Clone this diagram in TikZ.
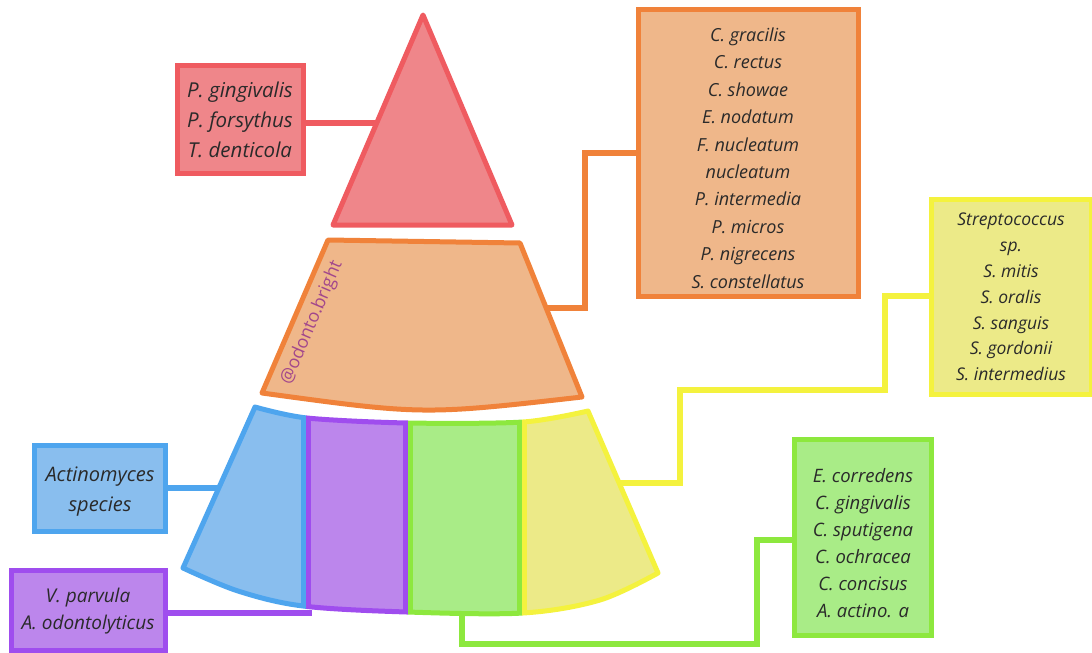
\documentclass[tikz,border=0pt]{standalone}
\usepackage{fontspec}
\setmainfont{Open Sans}
\definecolor{redF}{HTML}{EF868A}\definecolor{redD}{HTML}{EF5B60}
\definecolor{oraF}{HTML}{EFB78A}\definecolor{oraD}{HTML}{F0823A}
\definecolor{bluF}{HTML}{89BEEE}\definecolor{bluD}{HTML}{4EA5EE}
\definecolor{purF}{HTML}{BC86EC}\definecolor{purD}{HTML}{9F4DEE}
\definecolor{greF}{HTML}{A9EC87}\definecolor{greD}{HTML}{8DE83E}
\definecolor{yelF}{HTML}{ECEA88}\definecolor{yelD}{HTML}{F4F23E}
\definecolor{txt}{HTML}{2A2A2A}
\definecolor{wmark}{HTML}{A2478C}
\begin{document}
\begin{tikzpicture}[x=1pt,y=-1pt,
  box/.style={draw, line width=5pt, inner sep=0pt},
  label text/.style={align=center, text=txt, inner sep=0pt},
  conn/.style={line width=6pt},
  tier/.style={line width=5pt, line join=round}]
\useasboundingbox (0,0) rectangle (1092,653);
% ---- boxes
\node[box, fill=redF, draw=redD, minimum width=126pt, minimum height=108pt] (redbox) at (240,119) {};
\node[label text, font=\fontsize{20.5}{30}\itshape] (redtext) at ([yshift=-1pt]redbox.center)
  {P. gingivalis\\P. forsythus\\T. denticola};
\node[box, fill=oraF, draw=oraD, minimum width=220pt, minimum height=287pt] (orabox) at (748,153) {};
\node[label text, font=\fontsize{18}{27.4}\itshape] (oratext) at ([yshift=-5pt]orabox.center)
  {C. gracilis\\C. rectus\\C. showae\\E. nodatum\\F. nucleatum\\nucleatum\\P. intermedia\\P. micros\\P. nigrecens\\S. constellatus};
\node[box, fill=yelF, draw=yelD, minimum width=160pt, minimum height=195pt] (yelbox) at (1011,297) {};
\node[label text, font=\fontsize{17.5}{25.8}\itshape] (yeltext) at (yelbox.center)
  {Streptococcus\\sp.\\S. mitis\\S. oralis\\S. sanguis\\S. gordonii\\S. intermedius};
\node[box, fill=greF, draw=greD, minimum width=137pt, minimum height=196pt] (grebox) at (863,537) {};
\node[label text, font=\fontsize{18.5}{27}\itshape] (gretext) at ([yshift=-6pt]grebox.center)
  {E. corredens\\C. gingivalis\\C. sputigena\\C. ochracea\\C. concisus\\A. actino. a};
\node[box, fill=bluF, draw=bluD, minimum width=131pt, minimum height=86pt] (blubox) at (100,488) {};
\node[label text, font=\fontsize{20}{30}\itshape] (blutext) at ([yshift=-4pt]blubox.center)
  {Actinomyces\\species};
\node[box, fill=purF, draw=purD, minimum width=154pt, minimum height=80pt] (purbox) at (88,610) {};
\node[label text, font=\fontsize{19}{27}\itshape] (purtext) at ([yshift=-1pt]purbox.center)
  {V. parvula\\A. odontolyticus};
% ---- connector end points
\coordinate (redend) at (378,123);
\coordinate (oraend) at (545,308);
\coordinate (oj) at (585,153);
\coordinate (yelend) at (615,483);
\coordinate (yj1) at (680,390);
\coordinate (yj2) at (885,296);
\coordinate (greend) at (462,610);
\coordinate (gj1) at (462,644);
\coordinate (gj2) at (757,540);
\coordinate (bluend) at (226,488);
\coordinate (purend) at (312,613);
% ---- connectors
\draw[conn, redD] (redbox.east |- redend) -- (redend);
\draw[conn, oraD] (oraend) -| (oj) -- (oj -| orabox.west);
\draw[conn, yelD] (yelend) -| (yj1) -| (yj2) -- (yj2 -| yelbox.west);
\draw[conn, greD] (greend) -- (gj1) -| (gj2) -- (gj2 -| grebox.west);
\draw[conn, bluD] (blubox.east |- bluend) -- (bluend);
\draw[conn, purD] (purbox.east |- purend) -- (purend);
% ---- pyramid top
\draw[tier, fill=redF, draw=redD] (423,15) -- (512,225) -- (333,225) -- cycle;
% ---- middle tier
\draw[tier, fill=oraF, draw=oraD] (328,240) -- (520,243) -- (582,397)
  .. controls (423,415) .. (262,393) -- cycle;
\node[rotate=67, text=wmark, font=\fontsize{18}{20}\selectfont] (wm) at (312,323) {@odonto.bright};
% ---- bottom tier
\def\tierpath{plot[smooth, tension=0.5] coordinates {(255,407) (307,418) (408,423) (523,422) (588,411)}
  -- plot[smooth, tension=0.55] coordinates {(658,573) (600,600) (523,613) (407,612) (303,606) (238,591) (183,568)} -- cycle}
\foreach \a/\b/\f/\d in {150/306/bluF/bluD, 306/408/purF/purD, 408/522/greF/greD, 522/700/yelF/yelD}{
  \begin{scope}
    \clip (\a,380) rectangle (\b,680);
    \draw[tier, fill=\f, draw=\d] \tierpath;
  \end{scope}
  \begin{scope}
    \clip \tierpath;
    \draw[line width=5pt, draw=\d] (\a+2.5,380) -- (\a+2.5,680) (\b-2.5,380) -- (\b-2.5,680);
  \end{scope}
}
\end{tikzpicture}
\end{document}
